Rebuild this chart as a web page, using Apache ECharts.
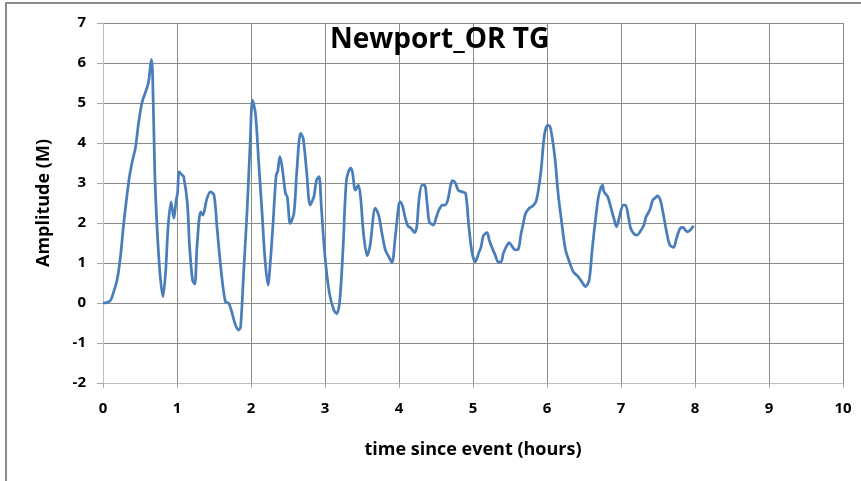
<!DOCTYPE html>
<html>
<head>
<meta charset="utf-8">
<title>Newport_OR TG</title>
<script src="https://cdn.jsdelivr.net/npm/echarts@6/dist/echarts.min.js"></script>
<style>
  html, body { margin: 0; padding: 0; background: #fff; }
  #main { width: 861px; height: 481px; }
</style>
</head>
<body>
<div id="main"></div>
<script>
// time since event (hours)
var timeHours = [
  0, 0.05, 0.1, 0.124, 0.19, 0.236, 0.28, 0.35, 0.39, 0.44, 0.48, 0.53, 0.6, 0.62, 0.655, 0.67,
  0.7, 0.73, 0.77, 0.81, 0.845, 0.88, 0.92, 0.957, 0.99, 1.007, 1.03, 1.07, 1.09, 1.14, 1.17,
  1.21, 1.24, 1.27, 1.32, 1.35, 1.4, 1.45, 1.5, 1.54, 1.6, 1.655, 1.7, 1.745, 1.79, 1.835, 1.86,
  1.9, 1.95, 1.99, 2.02, 2.06, 2.105, 2.15, 2.19, 2.23, 2.26, 2.295, 2.34, 2.36, 2.39, 2.42,
  2.466, 2.49, 2.53, 2.58, 2.62, 2.67, 2.705, 2.75, 2.8, 2.85, 2.885, 2.92, 2.95, 3.0, 3.06,
  3.12, 3.16, 3.2, 3.245, 3.29, 3.345, 3.37, 3.41, 3.45, 3.48, 3.52, 3.57, 3.61, 3.68, 3.725,
  3.77, 3.815, 3.86, 3.905, 3.95, 4.0, 4.02, 4.05, 4.08, 4.12, 4.165, 4.21, 4.24, 4.27, 4.31,
  4.345, 4.38, 4.41, 4.465, 4.5, 4.54, 4.59, 4.62, 4.66, 4.69, 4.72, 4.76, 4.8, 4.85, 4.9,
  4.94, 4.985, 5.03, 5.075, 5.11, 5.14, 5.19, 5.22, 5.26, 5.3, 5.34, 5.38, 5.41, 5.45, 5.49,
  5.53, 5.57, 5.61, 5.65, 5.68, 5.71, 5.76, 5.81, 5.85, 5.88, 5.92, 5.965, 6.01, 6.04, 6.065,
  6.11, 6.15, 6.2, 6.25, 6.31, 6.355, 6.42, 6.47, 6.52, 6.57, 6.61, 6.66, 6.7, 6.75, 6.77,
  6.82, 6.86, 6.91, 6.94, 6.98, 7.03, 7.06, 7.1, 7.13, 7.18, 7.22, 7.27, 7.31, 7.34, 7.39,
  7.43, 7.46, 7.49, 7.53, 7.57, 7.62, 7.66, 7.71, 7.75, 7.8, 7.84, 7.89, 7.93, 7.98
];
// amplitude (M)
var amplitude = [
  0, 0.01, 0.06, 0.16, 0.575, 1.16, 1.99, 3.07, 3.49, 3.9, 4.49, 5.03, 5.41, 5.58, 6.09, 5.74,
  3.24, 1.91, 0.74, 0.16, 0.74, 1.91, 2.53, 2.12, 2.58, 2.74, 3.28, 3.2, 3.16, 2.49, 1.41,
  0.575, 0.47, 1.41, 2.28, 2.2, 2.58, 2.78, 2.7, 1.91, 0.74, 0.03, -0.01, -0.26, -0.55, -0.675, -0.59,
  0.74, 2.41, 4.07, 5.07, 4.74, 3.49, 2.24, 1.07, 0.45, 0.99, 1.91, 3.2, 3.28, 3.66, 3.41,
  2.74, 2.66, 1.99, 2.24, 3.32, 4.24, 4.12, 3.32, 2.45, 2.66, 3.07, 3.16, 2.41, 1.16, 0.24,
  -0.18, -0.27, 0.07, 1.41, 3.07, 3.37, 3.28, 2.82, 2.95, 2.66, 1.74, 1.18, 1.45, 2.37, 2.2,
  1.74, 1.33, 1.16, 1.01, 1.66, 2.49, 2.53, 2.41, 2.16, 1.93, 1.87, 1.76, 1.91, 2.58, 2.95,
  2.95, 2.49, 2.03, 1.95, 2.12, 2.33, 2.45, 2.45, 2.58, 2.87, 3.06, 3.01, 2.82, 2.78, 2.74,
  1.99, 1.28, 1.03, 1.24, 1.41, 1.68, 1.76, 1.57, 1.37, 1.2, 1.03, 1.03, 1.24, 1.41, 1.51,
  1.41, 1.33, 1.34, 1.74, 1.99, 2.24, 2.37, 2.43, 2.53, 2.78, 3.32, 4.2, 4.45, 4.41, 4.2,
  3.58, 2.74, 1.99, 1.33, 0.99, 0.78, 0.66, 0.53, 0.41, 0.575, 1.33, 2.16, 2.7, 2.95, 2.78,
  2.66, 2.41, 2.07, 1.91, 2.16, 2.45, 2.45, 2.16, 1.87, 1.72, 1.7, 1.82, 1.95, 2.16, 2.33,
  2.58, 2.62, 2.68, 2.58, 2.24, 1.74, 1.45, 1.39, 1.62, 1.87, 1.89, 1.78, 1.81, 1.93
];

var xMin = 0, xMax = 10, xStep = 1;
var yMin = -2, yMax = 7, yStep = 1;

var chart = echarts.init(document.getElementById('main'));

var points = timeHours.map(function (t, i) { return [t, amplitude[i]]; });

var labelFont = { fontFamily: 'Open Sans', fontWeight: 'bold', fontSize: 15, color: '#000' };
var nameFont = { fontFamily: 'Open Sans', fontWeight: 'bold', fontSize: 18, color: '#000' };

chart.setOption({
    animation: false,
    backgroundColor: '#fff',
    title: {
        text: 'Newport_OR TG',
        left: 325,
        top: 21,
        textStyle: { fontFamily: 'Open Sans', fontWeight: 'bold', fontSize: 28, color: '#000' }
    },
    graphic: [{
        type: 'rect',
        shape: { x: 6, y: 3, width: 900, height: 520 },
        style: { fill: 'none', stroke: '#8c8c8c', lineWidth: 2 },
        z: 100
    }],
    grid: { left: 103, right: 18, top: 23, bottom: 98 },
    xAxis: {
        type: 'value',
        min: xMin, max: xMax, interval: xStep,
        name: 'time since event (hours)',
        nameLocation: 'middle',
        nameGap: 58,
        nameTextStyle: nameFont,
        axisLine: { onZero: false, lineStyle: { color: '#bfbfbf', width: 1 } },
        axisTick: { show: true, length: 5, lineStyle: { color: '#a6a6a6' } },
        axisLabel: Object.assign({ margin: 18 }, labelFont),
        splitLine: { show: true, lineStyle: { color: '#8a8a8a', width: 1 } }
    },
    yAxis: {
        type: 'value',
        min: yMin, max: yMax, interval: yStep,
        name: 'Amplitude (M)',
        nameLocation: 'middle',
        nameGap: 50,
        nameTextStyle: nameFont,
        axisLine: { show: true, lineStyle: { color: '#bfbfbf', width: 1 } },
        axisTick: { show: true, length: 6, lineStyle: { color: '#a6a6a6' } },
        axisLabel: Object.assign({ margin: 17 }, labelFont),
        splitLine: { show: true, lineStyle: { color: '#8a8a8a', width: 1 } }
    },
    series: [{
        type: 'line',
        data: points,
        smooth: 0.3,
        symbol: 'none',
        lineStyle: { color: '#4a7ebb', width: 2.75 }
    }]
});
</script>
</body>
</html>
